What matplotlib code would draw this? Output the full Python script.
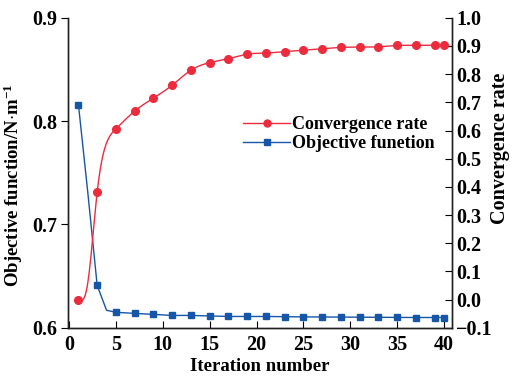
import numpy as np
import matplotlib
matplotlib.use("Agg")
import matplotlib.pyplot as plt
from matplotlib.lines import Line2D

# marked points
iterations = [1, 3, 5, 7, 9, 11, 13, 15, 17, 19, 21, 23, 25, 27, 29, 31, 33, 35, 37, 39, 40]
objective = [0.816, 0.641, 0.615, 0.614, 0.613, 0.612, 0.612, 0.6115, 0.611, 0.611, 0.611,
             0.6108, 0.6106, 0.6105, 0.6104, 0.6103, 0.6102, 0.6101, 0.6100, 0.6100, 0.6100]
conv_rate = [0.0, 0.381, 0.606, 0.669, 0.715, 0.761, 0.814, 0.841, 0.855, 0.871, 0.875,
             0.880, 0.885, 0.890, 0.895, 0.896, 0.897, 0.902, 0.902, 0.903, 0.903]

# unmarked line vertices at iterations 2 and 4
extra_iter = [2, 4]
extra_objective = [0.731, 0.617]
extra_conv_rate = [0.06, 0.556]

RED = "#EC2B3D"
BLUE = "#1656A8"

plt.rcParams["font.family"] = "Liberation Serif"
plt.rcParams["font.weight"] = "bold"
plt.rcParams["mathtext.fontset"] = "custom"
plt.rcParams["mathtext.rm"] = "Liberation Serif:bold"
plt.rcParams["mathtext.it"] = "Liberation Serif:bold"
plt.rcParams["mathtext.bf"] = "Liberation Serif:bold"
plt.rcParams["mathtext.default"] = "rm"


def natural_spline(x, y, n=500):
    # natural cubic spline through the points, for the smooth red line
    x = np.asarray(x, float)
    y = np.asarray(y, float)
    m = len(x)
    h = np.diff(x)
    A = np.zeros((m, m))
    b = np.zeros(m)
    A[0, 0] = A[-1, -1] = 1
    for k in range(1, m - 1):
        A[k, k - 1] = h[k - 1]
        A[k, k] = 2 * (h[k - 1] + h[k])
        A[k, k + 1] = h[k]
        b[k] = 6 * ((y[k + 1] - y[k]) / h[k] - (y[k] - y[k - 1]) / h[k - 1])
    M = np.linalg.solve(A, b)
    xs = np.linspace(x[0], x[-1], n)
    i = np.clip(np.searchsorted(x, xs) - 1, 0, m - 2)
    a = x[i + 1] - xs
    c = xs - x[i]
    hi = h[i]
    ys = (M[i] * a**3 + M[i + 1] * c**3) / (6 * hi) \
        + (y[i] / hi - M[i] * hi / 6) * a + (y[i + 1] / hi - M[i + 1] * hi / 6) * c
    return xs, ys


def merged(xa, ya, xb, yb):
    order = np.argsort(list(xa) + list(xb), kind="stable")
    xx = np.array(list(xa) + list(xb), float)[order]
    yy = np.array(list(ya) + list(yb), float)[order]
    return xx, yy


fig = plt.figure(figsize=(5.16, 3.79), dpi=100)
ax = fig.add_axes([0.132, 0.135, 0.744, 0.818])
ax2 = ax.twinx()

lx, ly = merged(iterations, objective, extra_iter, extra_objective)
ax.plot(lx, ly, color=BLUE, lw=1.0)
ax.plot(iterations, objective, ls="none", marker="s", ms=5, color=BLUE)

lx, ly = merged(iterations, conv_rate, extra_iter, extra_conv_rate)
xs, ys = natural_spline(lx, ly)
ax2.plot(xs, ys, color=RED, lw=1.0)
ax2.plot(iterations, conv_rate, ls="none", marker="o", ms=5.5, color=RED)

ax.set_xlim(-0.1, 40.85)
ax.set_ylim(0.6, 0.9)
ax2.set_ylim(-0.1, 1.0)
ax.set_xticks(range(0, 41, 5))
ax.set_yticks([0.6, 0.7, 0.8, 0.9])
ax2.set_yticks(np.round(np.arange(-0.1, 1.01, 0.1), 1))
ax2.set_yticklabels(["\u22120.1"] + [f"{v:.1f}" for v in np.arange(0, 1.01, 0.1)])

for a in (ax, ax2):
    a.spines["top"].set_visible(False)
    for s in a.spines.values():
        s.set_linewidth(1.0)
        s.set_color("#222222")

ax.tick_params(axis="x", direction="in", length=5, labelsize=14.5, pad=5)
ax.tick_params(axis="y", direction="out", length=5, labelsize=14.5, pad=3)
ax2.tick_params(axis="y", direction="in", length=5, labelsize=14.5, pad=3)

ax.set_xlabel("Iteration number", fontsize=13.5, fontweight="bold", labelpad=2)
ax.set_ylabel("Objective function/N$\\cdot$m$^{-1}$", fontsize=13.5, fontweight="bold")
ax.yaxis.set_label_coords(-0.113, 0.46)
ax2.set_ylabel("Convergence rate", fontsize=14.5, fontweight="bold")
ax2.yaxis.set_label_coords(1.1, 0.58)

handles = [
    Line2D([], [], color=RED, lw=1.0, marker="o", ms=5),
    Line2D([], [], color=BLUE, lw=1.0, marker="s", ms=4.5),
]
ax2.legend(handles, ["Convergence rate", "Objective funetion"], loc="center",
           bbox_to_anchor=(0.705, 0.624), frameon=False,
           handlelength=2.6, handletextpad=0.1, labelspacing=0.1,
           prop={"family": "Liberation Serif", "weight": "bold", "size": 13})

fig.savefig("out.png", dpi=100)
